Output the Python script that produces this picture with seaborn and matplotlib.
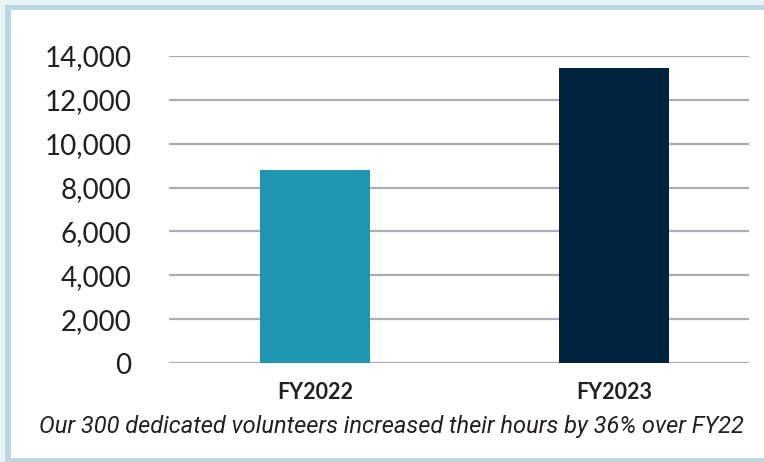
import matplotlib
matplotlib.use("Agg")
import matplotlib.pyplot as plt
import seaborn as sns
import pandas as pd
from matplotlib.patches import Rectangle
from matplotlib.ticker import FuncFormatter

categories = ["FY2022", "FY2023"]
hours = [8800, 13450]
bar_colors = ["#1f95b2", "#01223d"]
y_ticks = [0, 2000, 4000, 6000, 8000, 10000, 12000, 14000]
caption = "Our 300 dedicated volunteers increased their hours by 36% over FY22"

sns.set_theme(style="white")
plt.rcParams["font.family"] = ["Lato", "DejaVu Sans"]

W, H = 764, 462
fig = plt.figure(figsize=(W / 100, H / 100), dpi=100)
fig.patch.set_facecolor("#e9f4f9")

# frame: border then white panel
fig.patches.append(Rectangle((5 / W, 0), 1.0, 1 - 5 / H, transform=fig.transFigure,
                             facecolor="#bcd7e2", edgecolor="none", zorder=-2))
fig.patches.append(Rectangle((11 / W, 4 / H), 1.0, 1 - 14 / H, transform=fig.transFigure,
                             facecolor="white", edgecolor="none", zorder=-1))

ax = fig.add_axes([169 / W, 1 - 363 / H, (749 - 169) / W, (363 - 56) / H])
ax.set_facecolor("none")

df = pd.DataFrame({"year": categories, "hours": hours})
sns.barplot(data=df, x="year", y="hours", hue="year", palette=bar_colors,
            width=0.368, legend=False, ax=ax, zorder=3, saturation=1, linewidth=0)

ax.set_xlim(-0.4883, 1.4515)
ax.set_ylim(0, 14000)
ax.set_yticks(y_ticks)
ax.yaxis.set_major_formatter(FuncFormatter(lambda v, p: f"{int(v):,}"))
ax.grid(axis="y", color="#adacb2", linewidth=1.6, zorder=0)
ax.set_axisbelow(True)
for s in ax.spines.values():
    s.set_visible(False)
ax.tick_params(axis="y", length=0, pad=27, labelsize=20, labelcolor="#231f20")
ax.tick_params(axis="x", length=0, pad=14, labelsize=15.5, labelcolor="#231f20")
for lbl in ax.get_yticklabels():
    lbl.set_fontweight("normal")
for lbl in ax.get_xticklabels():
    lbl.set_fontweight("bold")
ax.set_xlabel("")
ax.set_ylabel("")

fig.text(391 / W, 1 - 426 / H, caption, ha="center", va="center",
         fontsize=17, style="italic", color="#231f20", family=["Roboto", "DejaVu Sans"])

fig.savefig("out.png", dpi=100, facecolor=fig.get_facecolor())
